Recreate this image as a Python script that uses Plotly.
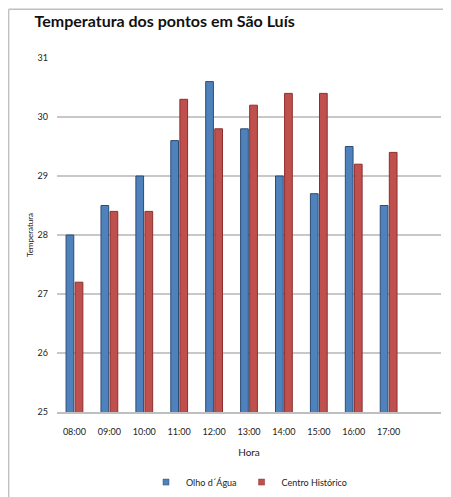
import plotly.graph_objects as go

horas = ["08:00", "09:00", "10:00", "11:00", "12:00", "13:00", "14:00", "15:00", "16:00", "17:00", ""]
olho_dagua = [28.0, 28.5, 29.0, 29.6, 30.6, 29.8, 29.0, 28.7, 29.5, 28.5, None]
centro_historico = [27.2, 28.4, 28.4, 30.3, 29.8, 30.2, 30.4, 30.4, 29.2, 29.4, None]
y_ticks = [25, 26, 27, 28, 29, 30, 31]
series_names = ["Olho d´Água", "Centro Histórico"]

FONT = "Lato"
BLUE, BLUE_EDGE = "#4F81BD", "#2C4D75"
RED, RED_EDGE = "#C0504D", "#8C2F2C"

fig = go.Figure()
xs = list(range(len(horas)))
fig.add_trace(go.Bar(x=xs, y=olho_dagua, name=series_names[0], showlegend=False,
                     marker=dict(color=BLUE, line=dict(color=BLUE_EDGE, width=1))))
fig.add_trace(go.Bar(x=xs, y=centro_historico, name=series_names[1], showlegend=False,
                     marker=dict(color=RED, line=dict(color=RED_EDGE, width=1))))
# legend entries with small square markers
for nm, col, edge in [(series_names[0], BLUE, BLUE_EDGE), (series_names[1], RED, RED_EDGE)]:
    fig.add_trace(go.Scatter(x=[None], y=[None], mode="markers", name=nm,
                             marker=dict(symbol="square", size=6, color=col,
                                         line=dict(color=edge, width=0.5))))

fig.update_layout(
    width=443, height=489,
    paper_bgcolor="white", plot_bgcolor="white",
    margin=dict(l=49, r=10, t=50, b=85, autoexpand=False),
    barmode="group", bargap=0.48, bargroupgap=0.15,
    title=dict(text="Temperatura dos pontos em São Luís", x=0.06, xanchor="left",
               y=0.972, yanchor="middle",
               font=dict(family=FONT, size=16, color="#111111", weight="bold")),
    font=dict(family=FONT, size=9, color="#222222"),
    showlegend=True,
    legend=dict(orientation="h", x=0.5, xanchor="center", y=-0.198, yanchor="middle",
                font=dict(family=FONT, size=9, color="#222222"),
                itemwidth=30, traceorder="normal", itemclick=False),
    xaxis=dict(
        tickmode="array", tickvals=xs, ticktext=horas,
        range=[-0.5, len(horas) - 0.5], automargin=False,
        showgrid=False, showline=True, linecolor="#BFBFBF", linewidth=1.5,
        ticks="", tickfont=dict(size=9), ticklabelstandoff=10,
        title=dict(text="Hora", font=dict(size=10), standoff=13),
    ),
    yaxis=dict(
        range=[25, 31], tickvals=y_ticks, automargin=False,
        showgrid=True, gridcolor="#C8C8C8", gridwidth=1.5,
        zeroline=False, showline=False, ticks="",
        tickfont=dict(size=9), ticklabelstandoff=8,
        title=dict(text="Temperatura", font=dict(size=8), standoff=2),
    ),
    shapes=[
        dict(type="line", xref="paper", yref="paper", x0=-0.126, x1=1.05, y0=1.138, y1=1.138,
             line=dict(color="#BFBFBF", width=1.5)),
        dict(type="line", xref="paper", yref="paper", x0=-0.126, x1=-0.126, y0=1.138, y1=-0.24,
             line=dict(color="#BFBFBF", width=1.5)),
    ],
)

fig.write_html("out.html")
